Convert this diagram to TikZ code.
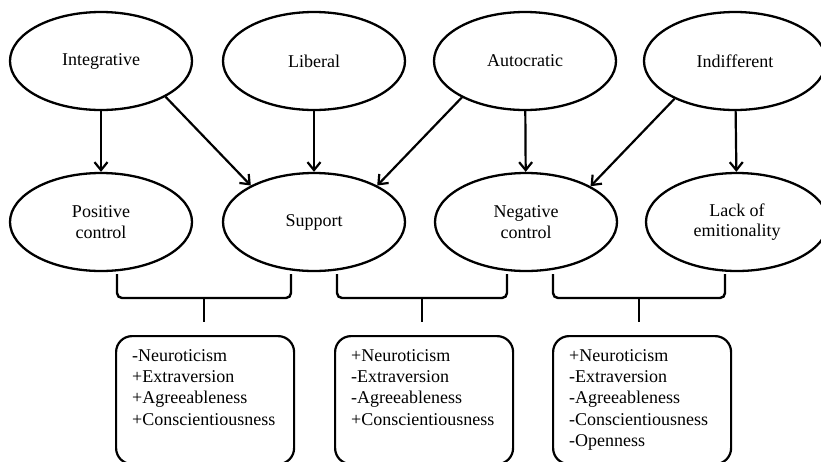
\documentclass[tikz,border=0pt]{standalone}
\usepackage{fontspec}
\setmainfont{Liberation Serif}
\usetikzlibrary{shapes.geometric,arrows.meta,positioning}
\tikzset{style oval/.style={draw, ellipse, line width=2.3pt, minimum width=182pt, minimum height=98pt, inner sep=0pt, align=center, font=\fontsize{18}{20.5}\selectfont}}
\tikzset{style link/.style={line width=2.2pt, -{Straight Barb[length=8pt,width=13pt,line width=2.2pt]}}}
\tikzset{style brace/.style={line width=2.4pt, rounded corners=5pt}, style trait/.style={draw, line width=2.2pt, rounded corners=16pt, minimum width=178pt, minimum height=128pt, anchor=north west}, style list/.style={align=left, inner sep=0pt, font=\fontsize{18}{21.3}\selectfont}}

\begin{document}
\begin{tikzpicture}[x=1pt,y=-1pt]
  \clip (0,0) rectangle (821,461);
  \fill[white] (0,0) rectangle (821,461);
  % leadership styles
  \node[style oval] (integ)  at (101,61) {Integrative};
  \node[style oval] (liberal) at (314,61) {Liberal};
  \node[style oval] (autocr) at (525,61) {Autocratic};
  \node[style oval] (indiff) at (735,61) {Indifferent};
  % parent behaviours
  \node[style oval] (poscon)  at (101,222) {Positive\\control};
  \node[style oval] (support) at (314,222) {Support};
  \node[style oval] (negcon)  at (526,222) {Negative\\control};
  \node[style oval] (lackemo) at (737,222) {Lack of\\emitionality};
  \draw[style link] (integ) -- (poscon);
  \draw[style link] (integ.-29) -- (support.150);
  \draw[style link] (liberal) -- (support);
  \draw[style link] (autocr.210) -- (support.30);
  \draw[style link] (autocr) -- (negcon);
  \draw[style link] (indiff.212) -- (negcon.29);
  \draw[style link] (indiff) -- (lackemo);
  % brackets
  \coordinate (tipa) at (204,298);
  \coordinate (tipb) at (422,298);
  \coordinate (tipc) at (639,298);
  \draw[style brace] (117,274) -- (117,298) -- (291,298) -- (291,274);
  \draw[style brace] (337,274) -- (337,298) -- (507,298) -- (507,274);
  \draw[style brace] (553,274) -- (553,298) -- (725,298) -- (725,274);
  \draw[line width=2.4pt] (tipa) -- ++(0,24);
  \draw[line width=2.4pt] (tipb) -- ++(0,24);
  \draw[line width=2.4pt] (tipc) -- ++(0,24);
  % personality traits
  \node[style trait] (traita) at (115,335) {};
  \node[style trait] (traitb) at (334,335) {};
  \node[style trait] (traitc) at (552,335) {};
  \node[style list, below right=14pt and 17pt of traita.north west] (lista) {-Neuroticism\\+Extraversion\\+Agreeableness\\+Conscientiousness};
  \node[style list, below right=14pt and 17pt of traitb.north west] (listb) {+Neuroticism\\-Extraversion\\-Agreeableness\\+Conscientiousness};
  \node[style list, below right=14pt and 17pt of traitc.north west] (listc) {+Neuroticism\\-Extraversion\\-Agreeableness\\-Conscientiousness\\-Openness};
\end{tikzpicture}
\end{document}
